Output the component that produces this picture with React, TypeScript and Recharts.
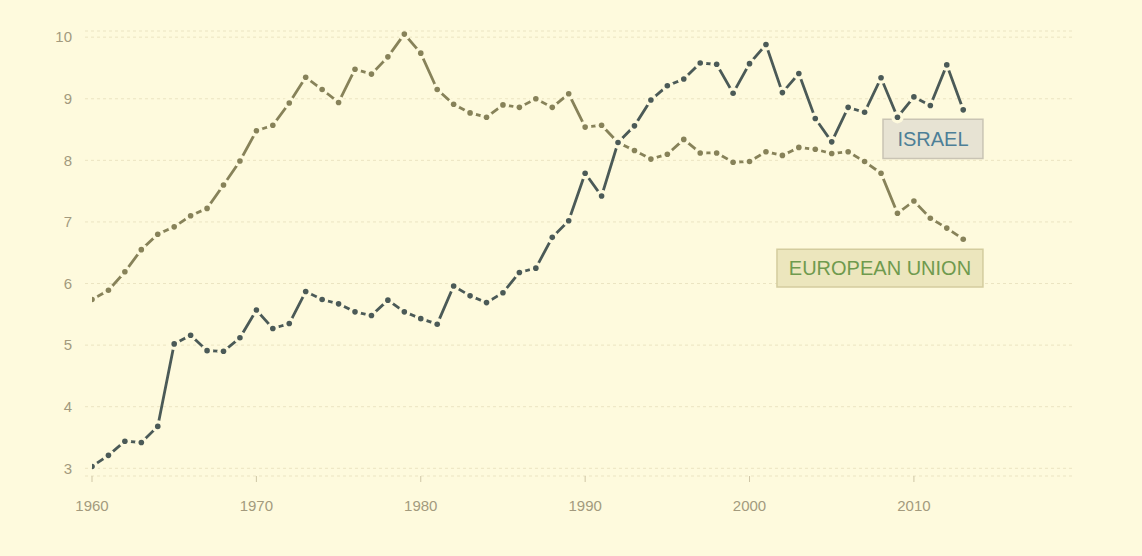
import {
  LineChart,
  Line,
  XAxis,
  YAxis,
  CartesianGrid,
  ReferenceArea,
} from 'recharts'

const years = [
  1960, 1961, 1962, 1963, 1964, 1965, 1966, 1967, 1968, 1969,
  1970, 1971, 1972, 1973, 1974, 1975, 1976, 1977, 1978, 1979,
  1980, 1981, 1982, 1983, 1984, 1985, 1986, 1987, 1988, 1989,
  1990, 1991, 1992, 1993, 1994, 1995, 1996, 1997, 1998, 1999,
  2000, 2001, 2002, 2003, 2004, 2005, 2006, 2007, 2008, 2009,
  2010, 2011, 2012, 2013,
]

const israel = [
  3.03, 3.21, 3.44, 3.42, 3.68, 5.02, 5.16, 4.91, 4.9, 5.12,
  5.57, 5.27, 5.35, 5.87, 5.74, 5.67, 5.54, 5.48, 5.73, 5.54,
  5.43, 5.34, 5.96, 5.8, 5.69, 5.85, 6.18, 6.25, 6.75, 7.02,
  7.79, 7.42, 8.29, 8.56, 8.98, 9.21, 9.32, 9.58, 9.56, 9.09,
  9.57, 9.88, 9.1, 9.41, 8.68, 8.3, 8.86, 8.78, 9.34, 8.7,
  9.03, 8.89, 9.55, 8.82,
]

const eu = [
  5.74, 5.89, 6.19, 6.55, 6.8, 6.92, 7.1, 7.22, 7.6, 7.99,
  8.48, 8.57, 8.93, 9.35, 9.15, 8.94, 9.48, 9.4, 9.68, 10.05,
  9.74, 9.15, 8.91, 8.77, 8.7, 8.9, 8.86, 9.0, 8.86, 9.08,
  8.54, 8.57, 8.29, 8.16, 8.02, 8.1, 8.34, 8.12, 8.12, 7.97,
  7.98, 8.14, 8.08, 8.21, 8.18, 8.11, 8.14, 7.98, 7.79, 7.14,
  7.34, 7.06, 6.9, 6.72,
]

const xTicks = [1960, 1970, 1980, 1990, 2000, 2010]
const yTicks = [3, 4, 5, 6, 7, 8, 9, 10]

const BG = '#fefadd'
const ISRAEL_COLOR = '#4b5a57'
const EU_COLOR = '#878259'

const data = years.map((year, i) => ({ year, israel: israel[i], eu: eu[i] }))

// dot with a halo in the background colour, so the line breaks near each point
const makeDot = (color: string) => (props: any) => {
  const { cx, cy, index } = props
  if (cx == null || cy == null) return <g key={`d-${index}`} />
  return (
    <g key={`d-${index}`}>
      <circle cx={cx} cy={cy} r={6.2} fill={BG} />
      <circle cx={cx} cy={cy} r={2.8} fill={color} />
    </g>
  )
}

export default function App() {
  const tickStyle = { fill: '#a39a7d', fontSize: 15 }
  return (
    <div
      style={{
        position: 'absolute',
        left: 0,
        top: 0,
        width: 1142,
        height: 556,
        background: BG,
        fontFamily: '"Liberation Sans", Arial, sans-serif',
      }}
    >
      <LineChart
        width={1142}
        height={556}
        data={data}
        margin={{ top: 31, right: 67, left: 0, bottom: 40 }}
      >
        <CartesianGrid
          vertical={false}
          strokeDasharray="3 3"
          stroke="#ebe4c2"
        />
        <XAxis
          dataKey="year"
          type="number"
          domain={[1960, 2019.8]}
          ticks={xTicks}
          allowDataOverflow
          padding={{ left: 7, right: 0 }}
          axisLine={false}
          tickLine={{ stroke: '#cfc6a6' }}
          tickSize={6}
          tickMargin={18}
          height={40}
          tick={tickStyle}
        />
        <YAxis
          type="number"
          domain={[2.875, 10.1]}
          ticks={yTicks}
          allowDataOverflow
          axisLine={false}
          tickLine={false}
          tickMargin={7}
          width={85}
          tick={tickStyle}
        />
        <Line
          dataKey="eu"
          stroke={EU_COLOR}
          strokeWidth={2.8}
          dot={makeDot(EU_COLOR)}
          activeDot={false}
          isAnimationActive={false}
        />
        <Line
          dataKey="israel"
          stroke={ISRAEL_COLOR}
          strokeWidth={2.8}
          dot={makeDot(ISRAEL_COLOR)}
          activeDot={false}
          isAnimationActive={false}
        />
        <ReferenceArea
          x1={2008.12}
          x2={2014.2}
          y1={8.03}
          y2={8.666}
          fill="#e7e3d3"
          fillOpacity={1}
          stroke="#c9c4b4"
          strokeWidth={1.5}
          ifOverflow="visible"
          label={{ value: 'ISRAEL', position: 'center', fill: '#4d7f97', fontSize: 20 }}
        />
        <ReferenceArea
          x1={2001.67}
          x2={2014.2}
          y1={5.943}
          y2={6.555}
          fill="#ece6bd"
          fillOpacity={1}
          stroke="#d3cc9e"
          strokeWidth={1.5}
          ifOverflow="visible"
          label={{ value: 'EUROPEAN UNION', position: 'center', fill: '#6f9a4e', fontSize: 20 }}
        />
      </LineChart>
    </div>
  )
}
